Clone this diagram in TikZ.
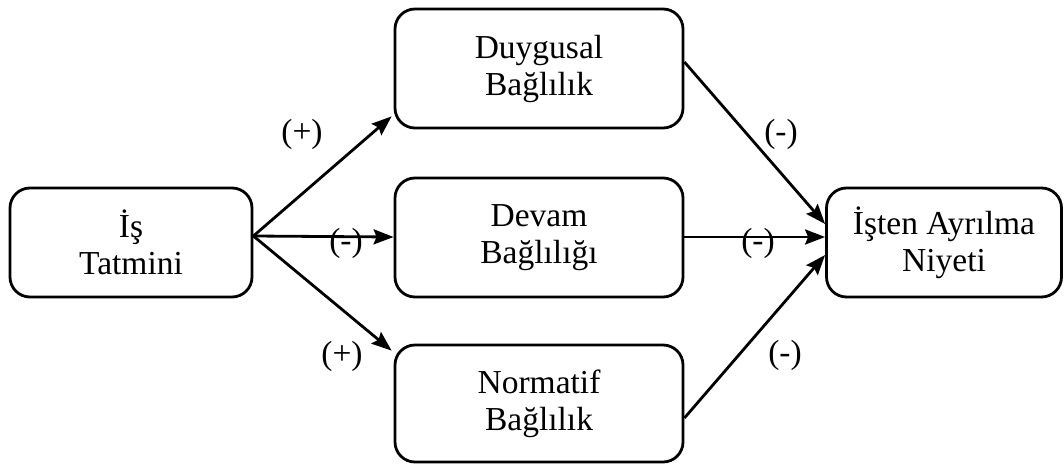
\documentclass[tikz,border=0pt]{standalone}
\usepackage{fontspec}
\setmainfont{Liberation Serif}
\usetikzlibrary{arrows.meta,calc}
\begin{document}
\begin{tikzpicture}[x=1pt,y=-1pt,
  box/.style={draw,line width=2.8pt,rounded corners=20pt,align=center,
    font=\fontsize{33.5}{37}\selectfont,inner sep=0pt},
  link/.style={line width=2.8pt,-{Stealth[length=20pt,width=15pt,inset=3pt]}},
  sign/.style={font=\fontsize{33.5}{37}\selectfont,inner sep=0pt}]
\useasboundingbox (0,0) rectangle (1064,463);
% boxes
\node[box,minimum width=242pt,minimum height=109pt] (is)  at (131,242.5) {İş\\Tatmini};
\node[box,minimum width=288pt,minimum height=119pt] (duy) at (539,68.5)  {Duygusal\\Bağlılık};
\node[box,minimum width=288pt,minimum height=119pt] (dev) at (539,237.5) {Devam\\Bağlılığı};
\node[box,minimum width=288pt,minimum height=117pt] (nor) at (539,403.5) {Normatif\\Bağlılık};
\node[box,minimum width=235pt,minimum height=109pt] (ist) at (944,242.5) {İşten Ayrılma\\Niyeti};
% paths from job satisfaction
\draw[link] ($(is.east)+(0,-6.5)$) -- ($(duy.south west)+(-2,-13)$);
\draw[link] ($(is.east)+(0,-6.5)$) -- ($(dev.west)+(0,-0.5)$);
\draw[link] ($(is.east)+(0,-6.5)$) -- ($(nor.north west)+(-2,7)$);
% paths to turnover intention
\draw[link] ($(duy.east)+(0,-6.5)$) -- ($(ist.west)+(0,-18.5)$);
\draw[link] ($(dev.east)+(0,-0.5)$) -- ($(ist.west)+(0,-5.5)$);
\draw[link] ($(nor.east)+(0,14.5)$) -- ($(ist.west)+(0,12.5)$);
% signs
\node[sign] (s1) at (302,134) {(+)};
\node[sign] (s2) at (346,243) {(-)};
\node[sign] (s3) at (342,356) {(+)};
\node[sign] (s4) at (781,134) {(-)};
\node[sign] (s5) at (758,243) {(-)};
\node[sign] (s6) at (785,355) {(-)};
\end{tikzpicture}
\end{document}
